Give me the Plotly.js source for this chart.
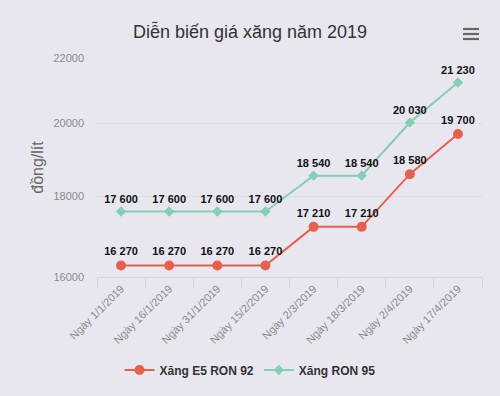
<!DOCTYPE html>
<html>
<head>
<meta charset="utf-8">
<script src="https://cdn.plot.ly/plotly-3.0.1.min.js"></script>
<style>html,body{margin:0;padding:0;background:#e8e7ef;}#chart{width:500px;height:396px;}</style>
</head>
<body>
<div id="chart"></div>
<script>
const categories = ["Ngày 1/1/2019","Ngày 16/1/2019","Ngày 31/1/2019","Ngày 15/2/2019","Ngày 2/3/2019","Ngày 18/3/2019","Ngày 2/4/2019","Ngày 17/4/2019"];
const e5Ron92 = [16270,16270,16270,16270,17210,17210,18580,19700];
const ron95 = [17600,17600,17600,17600,18540,18540,20030,21230];
const yTickVals = [16000,18000,20000,22000];
const yTickText = ["16000","18000","20000","22000"];
const seriesNames = ["Xăng E5 RON 92","Xăng RON 95"];

function fmt(v){ return String(v).replace(/\B(?=(\d{3})+(?!\d))/g," "); }

const font = "Liberation Sans, Arial, sans-serif";
const traces = [
  {x:categories, y:e5Ron92, name:seriesNames[0], type:"scatter", mode:"lines+markers+text",
   line:{color:"#e8604c", width:2}, marker:{color:"#e8604c", size:10, symbol:"circle"},
   text:e5Ron92.map(fmt), textposition:"top center",
   textfont:{family:font, size:11, color:"#111", weight:"bold"}, cliponaxis:false, hoverinfo:"x+y"},
  {x:categories, y:ron95, name:seriesNames[1], type:"scatter", mode:"lines+markers+text",
   line:{color:"#80d1b3", width:2}, marker:{color:"#80d1b3", size:8, symbol:"diamond"},
   text:ron95.map(fmt), textposition:"top center",
   textfont:{family:font, size:11, color:"#111", weight:"bold"}, cliponaxis:false, hoverinfo:"x+y"}
];

const L=97, R=18, T=58, B=119, W=500, H=396;
const pw = W-L-R, ph = H-T-B;
function px(x){return (x-L)/pw;}
function py(y){return (H-B-y)/ph;}
const shapes = [29,34,39].map(y=>({type:"line", xref:"paper", yref:"paper",
  x0:px(463), x1:px(479), y0:py(y), y1:py(y), line:{color:"#666", width:2.2}}));

const layout = {
  width:W, height:H,
  margin:{l:L, r:R, t:T, b:B, pad:0},
  paper_bgcolor:"#e8e7ef", plot_bgcolor:"#e8e7ef",
  font:{family:font, color:"#666"},
  title:{text:"Diễn biến giá xăng năm 2019", font:{family:font, size:18, color:"#333"},
    x:0.5, xref:"container", y:1-31.5/396, yanchor:"middle"},
  xaxis:{type:"category", range:[-0.5,7.5], tickson:"boundaries", ticks:"outside", ticklen:10,
    tickcolor:"#ccd6eb", showline:true, linecolor:"#ccd6eb", linewidth:1, showgrid:false,
    tickangle:-45, tickfont:{family:font, size:11, color:"#8a8a8a"}, fixedrange:true},
  yaxis:{type:"log", range:[Math.log10(16000), Math.log10(22000)], tickvals:yTickVals, ticktext:yTickText,
    showgrid:true, gridcolor:"#dcdce4", gridwidth:1, zeroline:false, showline:false, ticks:"",
    ticklabelstandoff:12, tickfont:{family:font, size:11, color:"#8a8a8a"},
    title:{text:"đồng/lít", font:{family:font, size:16, color:"#666"}, standoff:5}, fixedrange:true},
  legend:{orientation:"h", xref:"container", yref:"container", x:0.5, xanchor:"center", y:1-370/396, yanchor:"middle",
    font:{family:font, size:12, color:"#333", weight:"bold"}, bgcolor:"rgba(0,0,0,0)"},
  shapes:shapes,
  showlegend:true
};
Plotly.newPlot("chart", traces, layout, {displayModeBar:false, staticPlot:false});
</script>
</body>
</html>
